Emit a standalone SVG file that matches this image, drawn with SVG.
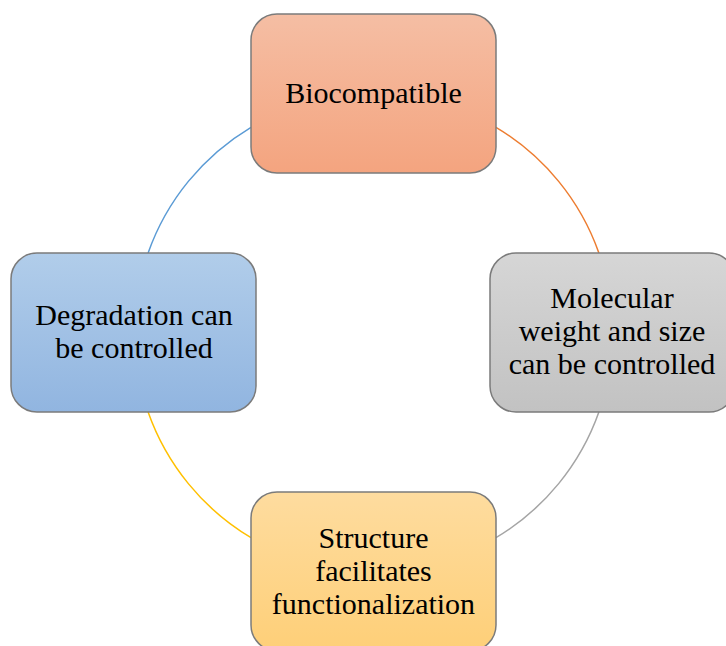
<svg xmlns="http://www.w3.org/2000/svg" width="726" height="646" viewBox="0 0 726 646">
  <style>
    .box { stroke: #7b7b7b; stroke-width: 1.5; }
    .lbl { font-family: "Liberation Serif", "DejaVu Serif", serif; font-size: 30px; fill: #000; text-anchor: middle; }
    .arc { fill: none; stroke-width: 1.5; }
  </style>
  <defs>
    <linearGradient id="gOrange" x1="0" y1="0" x2="0" y2="1">
      <stop offset="0" stop-color="#f5bea4"/>
      <stop offset="1" stop-color="#f4a47f"/>
    </linearGradient>
    <linearGradient id="gGray" x1="0" y1="0" x2="0" y2="1">
      <stop offset="0" stop-color="#d6d6d6"/>
      <stop offset="1" stop-color="#c2c2c2"/>
    </linearGradient>
    <linearGradient id="gBlue" x1="0" y1="0" x2="0" y2="1">
      <stop offset="0" stop-color="#b1cdea"/>
      <stop offset="1" stop-color="#91b5e0"/>
    </linearGradient>
    <linearGradient id="gYellow" x1="0" y1="0" x2="0" y2="1">
      <stop offset="0" stop-color="#fedc9f"/>
      <stop offset="1" stop-color="#fecf78"/>
    </linearGradient>
  </defs>

  <!-- connecting arcs of the cycle -->
  <g id="connectors">
    <path class="arc" stroke="#ed7d31" d="M496,127.3 A239,239 0 0 1 598.9,253"/>
    <path class="arc" stroke="#a5a5a5" d="M598.9,412 A239,239 0 0 1 496,537.7"/>
    <path class="arc" stroke="#ffc000" d="M251,537.7 A239,239 0 0 1 148.1,412"/>
    <path class="arc" stroke="#5b9bd5" d="M148.1,253 A239,239 0 0 1 251,127.3"/>
  </g>

  <g id="node-biocompatible">
    <rect class="box" x="251" y="14" width="245" height="159" rx="26" fill="url(#gOrange)"/>
    <text class="lbl" x="373.5" y="103">Biocompatible</text>
  </g>

  <g id="node-molecular">
    <rect class="box" x="490" y="253" width="245" height="159" rx="26" fill="url(#gGray)"/>
    <text class="lbl" x="612" y="308">Molecular</text>
    <text class="lbl" x="612" y="341">weight and size</text>
    <text class="lbl" x="612" y="374">can be controlled</text>
  </g>

  <g id="node-structure">
    <rect class="box" x="251" y="492" width="245" height="159" rx="26" fill="url(#gYellow)"/>
    <text class="lbl" x="373.5" y="548">Structure</text>
    <text class="lbl" x="373.5" y="581">facilitates</text>
    <text class="lbl" x="373.5" y="614">functionalization</text>
  </g>

  <g id="node-degradation">
    <rect class="box" x="11" y="253" width="245" height="159" rx="26" fill="url(#gBlue)"/>
    <text class="lbl" x="134" y="325">Degradation can</text>
    <text class="lbl" x="134" y="358">be controlled</text>
  </g>
</svg>
